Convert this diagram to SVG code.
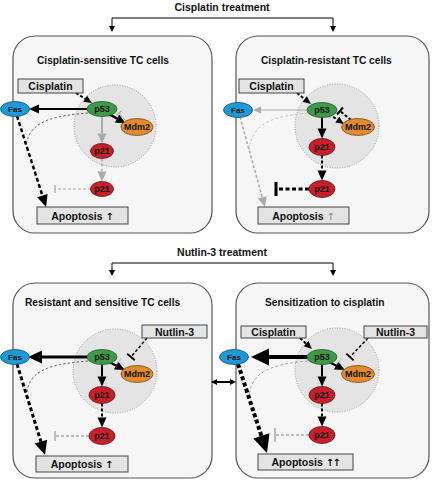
<svg xmlns="http://www.w3.org/2000/svg" width="432" height="480" viewBox="0 0 432 480">
<style>
text{font-family:"Liberation Sans",Arial,sans-serif;font-weight:bold;fill:#111}
.head{font-size:10.5px}
.ttl{font-size:10.2px}
.lbl{font-size:10.5px}
.ar{font-family:"DejaVu Sans",sans-serif;font-size:10px}
.nl{font-size:9px;text-anchor:middle}
.fl{font-size:8px}
.panel{fill:#f6f6f6;stroke:#555;stroke-width:1.2}
.circ{fill:#e4e4e4;stroke:#999;stroke-width:1;stroke-dasharray:1 1.5}
.box{fill:#e4e4e4;stroke:#444;stroke-width:1}
.p53{fill:#3d9b48;stroke:#1f5a26;stroke-width:0.8}
.mdm{fill:#e38a2c;stroke:#7a4a10;stroke-width:0.8}
.p21{fill:#c8202a;stroke:#6a0f12;stroke-width:0.8}
.fas{fill:#1e9ad6;stroke:#0f4f75;stroke-width:0.8}
.c path,.c line{fill:none}
.k{stroke:#000}
.g{stroke:#aaa}
.lg{stroke:#c8c8c8}
.dg{stroke:#444}
.d{stroke-dasharray:3 2}
.dd{stroke-dasharray:4 2.5}
.df{stroke-dasharray:2.5 2}
</style>
<defs>
<marker id="b6" markerUnits="userSpaceOnUse" markerWidth="6" markerHeight="6" refX="0" refY="3" orient="auto-start-reverse" overflow="visible"><path d="M0,0 L6,3 L0,6 z" fill="#000"/></marker>
<marker id="b8" markerUnits="userSpaceOnUse" markerWidth="8" markerHeight="7" refX="0" refY="3.5" orient="auto" overflow="visible"><path d="M0,0 L8,3.5 L0,7 z" fill="#000"/></marker>
<marker id="b10" markerUnits="userSpaceOnUse" markerWidth="10" markerHeight="9" refX="0" refY="4.5" orient="auto" overflow="visible"><path d="M0,0 L10,4.5 L0,9 z" fill="#000"/></marker>
<marker id="b12" markerUnits="userSpaceOnUse" markerWidth="12" markerHeight="11" refX="0" refY="5.5" orient="auto" overflow="visible"><path d="M0,0 L12,5.5 L0,11 z" fill="#000"/></marker>
<marker id="b14" markerUnits="userSpaceOnUse" markerWidth="14" markerHeight="13" refX="0" refY="6.5" orient="auto" overflow="visible"><path d="M0,0 L14,6.5 L0,13 z" fill="#000"/></marker>
<marker id="b18" markerUnits="userSpaceOnUse" markerWidth="18" markerHeight="17" refX="0" refY="8.5" orient="auto" overflow="visible"><path d="M0,0 L18,8.5 L0,17 z" fill="#000"/></marker>
<marker id="g8" markerUnits="userSpaceOnUse" markerWidth="8" markerHeight="7" refX="0" refY="3.5" orient="auto" overflow="visible"><path d="M0,0 L8,3.5 L0,7 z" fill="#aaa"/></marker>
<marker id="g10" markerUnits="userSpaceOnUse" markerWidth="10" markerHeight="9" refX="0" refY="4.5" orient="auto" overflow="visible"><path d="M0,0 L10,4.5 L0,9 z" fill="#aaa"/></marker>
</defs>

<g id="headers">
<text class="head" x="222" y="11" text-anchor="middle">Cisplatin treatment</text>
<text class="head" x="222" y="256" text-anchor="middle">Nutlin-3 treatment</text>
</g>

<g id="panel1">
<rect class="panel" x="13" y="36" width="199" height="197" rx="22"/>
<text class="ttl" x="37" y="64">Cisplatin-sensitive TC cells</text>
<circle class="circ" cx="115" cy="126" r="41"/>
</g>
<g id="panel2">
<rect class="panel" x="236" y="36" width="193" height="197" rx="22"/>
<text class="ttl" x="261" y="64">Cisplatin-resistant TC cells</text>
<circle class="circ" cx="337" cy="126" r="42"/>
</g>
<g id="panel3">
<rect class="panel" x="13" y="283" width="199" height="195" rx="22"/>
<text class="ttl" x="25" y="306">Resistant and sensitive TC cells</text>
<circle class="circ" cx="115" cy="371" r="42"/>
</g>
<g id="panel4">
<rect class="panel" x="236" y="283" width="193" height="195" rx="22"/>
<text class="ttl" x="265" y="306">Sensitization to cisplatin</text>
<circle class="circ" cx="337" cy="370" r="42"/>
</g>

<g id="connectors" class="c">
<path class="k" stroke-width="1" d="M112,18 L333,18"/>
<path class="k" stroke-width="1" d="M112,18 L112,26" marker-end="url(#b6)"/>
<path class="k" stroke-width="1" d="M333,18 L333,26" marker-end="url(#b6)"/>
<path class="k" stroke-width="1" d="M112,263 L333,263"/>
<path class="k" stroke-width="1" d="M112,263 L112,270" marker-end="url(#b6)"/>
<path class="k" stroke-width="1" d="M333,263 L333,270" marker-end="url(#b6)"/>
<path class="k" stroke-width="2" d="M217,382 L230,382" marker-start="url(#b6)" marker-end="url(#b6)"/>

<path class="k d" stroke-width="2" d="M76,93 L85.2,98.8" marker-end="url(#b8)"/>
<path class="k" stroke-width="2" d="M87,109 L39,109" marker-end="url(#b10)"/>
<path class="k" stroke-width="2.5" d="M109,114 L117,118.5" marker-end="url(#b10)"/>
<path class="g d" stroke-width="1" d="M125,120 L119,113"/>
<line class="g" stroke-width="1.2" x1="116.3" y1="115.3" x2="121.7" y2="110.7"/>
<path class="g" stroke-width="2" d="M102,116.5 L102,133.5" marker-end="url(#g10)"/>
<path class="g d" stroke-width="1.5" d="M102,158.5 L102,171.5" marker-end="url(#g10)"/>
<path class="g d" stroke-width="1" d="M91,189 L55,189"/>
<line class="g" stroke-width="1.2" x1="55" y1="185" x2="55" y2="193"/>
<path class="k dd" stroke-width="2.5" d="M17,116 L42.4,195.6" marker-end="url(#b12)"/>
<path class="dg df" stroke-width="0.8" d="M88,113 C55,116 30,120 26,145"/>

<path class="k d" stroke-width="2" d="M297,93 L304.7,99.1" marker-end="url(#b8)"/>
<path class="g" stroke-width="1.2" d="M307,110 L261,110" marker-end="url(#g8)"/>
<path class="k d" stroke-width="2" d="M329,114 L337.3,119.6" marker-end="url(#b8)"/>
<path class="k d" stroke-width="2" d="M351,120 L340,111"/>
<line class="k" stroke-width="2" x1="337.1" y1="114.5" x2="342.9" y2="107.5"/>
<path class="k" stroke-width="2" d="M322,117.5 L322,128.5" marker-end="url(#b10)"/>
<path class="k d" stroke-width="2" d="M322,155.5 L322,170.5" marker-end="url(#b10)"/>
<path class="k dd" stroke-width="3" d="M309,189 L276,189"/>
<line class="k" stroke-width="3" x1="276" y1="182" x2="276" y2="196"/>
<path class="g d" stroke-width="1.5" d="M240,117 L262.3,197.4" marker-end="url(#g10)"/>
<path class="lg d" stroke-width="1" d="M308,113 C275,116 252,122 249,150"/>

<path class="k d" stroke-width="1.5" d="M147,338 L131,357"/>
<line class="k" stroke-width="1.8" x1="127.2" y1="353.8" x2="134.8" y2="360.2"/>
<path class="k" stroke-width="3" d="M87,357 L42,357" marker-end="url(#b14)"/>
<path class="k" stroke-width="2" d="M109,362 L116,365.5" marker-end="url(#b10)"/>
<path class="lg d" stroke-width="1" d="M125,367 L119,361"/>
<line class="lg" stroke-width="1.2" x1="116.5" y1="363.5" x2="121.5" y2="358.5"/>
<path class="k" stroke-width="2" d="M102,364.5 L102,376.5" marker-end="url(#b10)"/>
<path class="k d" stroke-width="2" d="M102,403.5 L102,417.5" marker-end="url(#b10)"/>
<path class="g d" stroke-width="1.5" d="M89,436 L55,436"/>
<line class="g" stroke-width="1.5" x1="55" y1="431" x2="55" y2="441"/>
<path class="k dd" stroke-width="3" d="M17,364 L40.9,441.6" marker-end="url(#b14)"/>
<path class="dg df" stroke-width="0.8" d="M88,361 C55,364 30,368 27,392"/>

<path class="k d" stroke-width="2" d="M300,338 L306.1,343.6" marker-end="url(#b8)"/>
<path class="k d" stroke-width="1.5" d="M368,338 L350,357"/>
<line class="k" stroke-width="1.8" x1="346.4" y1="353.6" x2="353.6" y2="360.4"/>
<path class="k" stroke-width="4" d="M307,357 L269,357" marker-end="url(#b18)"/>
<path class="k" stroke-width="2" d="M329,362 L336,365.5" marker-end="url(#b10)"/>
<path class="lg d" stroke-width="1" d="M345,367 L339,361"/>
<line class="lg" stroke-width="1.2" x1="336.5" y1="363.5" x2="341.5" y2="358.5"/>
<path class="k" stroke-width="2" d="M322,364.5 L322,376.5" marker-end="url(#b10)"/>
<path class="k d" stroke-width="2" d="M322,403.5 L322,416.5" marker-end="url(#b10)"/>
<path class="g d" stroke-width="1.5" d="M309,435 L275,435"/>
<line class="g" stroke-width="1.5" x1="275" y1="428" x2="275" y2="442"/>
<path class="k dd" stroke-width="4" d="M238,364 L261.4,435.9" marker-end="url(#b18)"/>
<path class="g d" stroke-width="1" d="M308,361 C275,364 252,370 249,395"/>
</g>

<g id="p1-cisplatin"><rect class="box" x="18" y="79" width="65" height="14"/><text class="lbl" x="50.5" y="90" text-anchor="middle">Cisplatin</text></g>
<g id="p1-fas"><ellipse class="fas" cx="15" cy="109" rx="14.5" ry="7.5"/><text class="nl fl" x="15" y="112">Fas</text></g>
<g id="p1-p53"><ellipse class="p53" cx="102" cy="109" rx="15" ry="7.5"/><text class="nl" x="102" y="112.2">p53</text></g>
<g id="p1-mdm2"><ellipse class="mdm" cx="137" cy="127" rx="16" ry="8.5"/><text class="nl" x="137" y="130.2">Mdm2</text></g>
<g id="p1-p21a"><ellipse class="p21" cx="102" cy="151" rx="11.5" ry="7.5"/><text class="nl" x="102" y="154.2">p21</text></g>
<g id="p1-p21b"><ellipse class="p21" cx="102" cy="189" rx="11.5" ry="7.5"/><text class="nl" x="102" y="192.2">p21</text></g>
<g id="p1-apoptosis"><rect class="box" x="37" y="207" width="91" height="17"/><text class="lbl" x="82.5" y="219.5" text-anchor="middle">Apoptosis <tspan class="ar">↑</tspan></text></g>

<g id="p2-cisplatin"><rect class="box" x="239" y="79" width="65" height="14"/><text class="lbl" x="271.5" y="90" text-anchor="middle">Cisplatin</text></g>
<g id="p2-fas"><ellipse class="fas" cx="238" cy="110" rx="14.5" ry="7.5"/><text class="nl fl" x="238" y="113">Fas</text></g>
<g id="p2-p53"><ellipse class="p53" cx="322" cy="110" rx="15" ry="7.5"/><text class="nl" x="322" y="113.2">p53</text></g>
<g id="p2-mdm2"><ellipse class="mdm" cx="358" cy="127" rx="16.5" ry="8.5"/><text class="nl" x="358" y="130.2">Mdm2</text></g>
<g id="p2-p21a"><ellipse class="p21" cx="322" cy="147" rx="13" ry="8.5"/><text class="nl" x="322" y="150.2">p21</text></g>
<g id="p2-p21b"><ellipse class="p21" cx="322" cy="189" rx="13" ry="8.5"/><text class="nl" x="322" y="192.2">p21</text></g>
<g id="p2-apoptosis"><rect class="box" x="258" y="207" width="91" height="17"/><text class="lbl" x="303.5" y="219.5" text-anchor="middle">Apoptosis <tspan class="ar" fill="#999">↑</tspan></text></g>

<g id="p3-nutlin"><rect class="box" x="142" y="325" width="65" height="13"/><text class="lbl" x="174.5" y="335.5" text-anchor="middle">Nutlin-3</text></g>
<g id="p3-fas"><ellipse class="fas" cx="15" cy="357" rx="14.5" ry="7.5"/><text class="nl fl" x="15" y="360">Fas</text></g>
<g id="p3-p53"><ellipse class="p53" cx="102" cy="357" rx="15" ry="7.5"/><text class="nl" x="102" y="360.2">p53</text></g>
<g id="p3-mdm2"><ellipse class="mdm" cx="137" cy="374" rx="16" ry="8.5"/><text class="nl" x="137" y="377.2">Mdm2</text></g>
<g id="p3-p21a"><ellipse class="p21" cx="102" cy="395" rx="13" ry="8.5"/><text class="nl" x="102" y="398.2">p21</text></g>
<g id="p3-p21b"><ellipse class="p21" cx="102" cy="436" rx="13" ry="8.5"/><text class="nl" x="102" y="439.2">p21</text></g>
<g id="p3-apoptosis"><rect class="box" x="36" y="456" width="92" height="16"/><text class="lbl" x="82" y="467.5" text-anchor="middle">Apoptosis <tspan class="ar">↑</tspan></text></g>

<g id="p4-cisplatin"><rect class="box" x="241" y="326" width="65" height="12"/><text class="lbl" x="273.5" y="335.5" text-anchor="middle">Cisplatin</text></g>
<g id="p4-nutlin"><rect class="box" x="364" y="326" width="63" height="12"/><text class="lbl" x="395.5" y="335.5" text-anchor="middle">Nutlin-3</text></g>
<g id="p4-fas"><ellipse class="fas" cx="234" cy="357" rx="14.5" ry="7.5"/><text class="nl fl" x="234" y="360">Fas</text></g>
<g id="p4-p53"><ellipse class="p53" cx="322" cy="357" rx="15" ry="7.5"/><text class="nl" x="322" y="360.2">p53</text></g>
<g id="p4-mdm2"><ellipse class="mdm" cx="358" cy="374" rx="16.5" ry="8.5"/><text class="nl" x="358" y="377.2">Mdm2</text></g>
<g id="p4-p21a"><ellipse class="p21" cx="322" cy="395" rx="13" ry="8.5"/><text class="nl" x="322" y="398.2">p21</text></g>
<g id="p4-p21b"><ellipse class="p21" cx="322" cy="435" rx="13" ry="8.5"/><text class="nl" x="322" y="438.2">p21</text></g>
<g id="p4-apoptosis"><rect class="box" x="258" y="454" width="95" height="16"/><text class="lbl" x="305.5" y="465.5" text-anchor="middle">Apoptosis <tspan class="ar" letter-spacing="-1.5">↑↑</tspan></text></g>
</svg>
